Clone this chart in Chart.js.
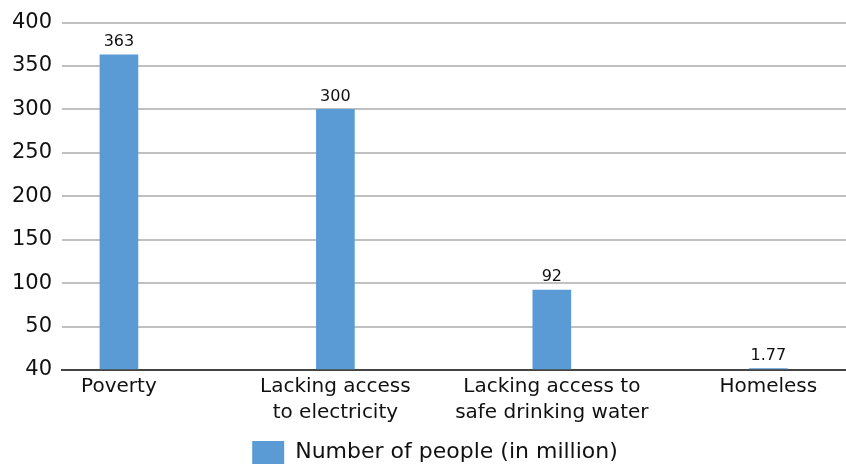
<!DOCTYPE html>
<html>
<head>
<meta charset="utf-8">
<script src="https://cdn.jsdelivr.net/npm/chart.js@4/dist/chart.umd.min.js"></script>
<style>
  html, body { margin: 0; padding: 0; background: #fff; }
  #wrap { width: 846px; height: 466px; position: relative; }
</style>
</head>
<body>
<div id="wrap"><canvas id="povertyChart"></canvas></div>
<script>
// Categories (each entry holds the label lines) and values
const categories = [
  ["Poverty"],
  ["Lacking access", "to electricity"],
  ["Lacking access to", "safe drinking water"],
  ["Homeless"],
];
const values = [363, 300, 92, 1.77];
const valueLabels = ["363", "300", "92", "1.77"];
const seriesName = "Number of people (in million)";

// y axis ticks as printed on the original
const yTickValues = [0, 50, 100, 150, 200, 250, 300, 350, 400];
const yTickLabels = ["40", "50", "100", "150", "200", "250", "300", "350", "400"];

const FONT = "'DejaVu Sans', Verdana, sans-serif";

// Draws the value above each bar
const valueLabelPlugin = {
  id: "valueLabels",
  afterDatasetsDraw(chart) {
    const ctx = chart.ctx;
    const meta = chart.getDatasetMeta(0);
    ctx.save();
    ctx.font = "16px " + FONT;
    ctx.fillStyle = "#111";
    ctx.textAlign = "center";
    ctx.textBaseline = "bottom";
    meta.data.forEach((bar, i) => {
      ctx.fillText(valueLabels[i], bar.x, bar.y - 5);
    });
    ctx.restore();
  },
};

const ctx = document.getElementById("povertyChart").getContext("2d");

new Chart(ctx, {
  type: "bar",
  data: {
    datasets: [
      {
        label: seriesName,
        data: values.map((v, i) => ({ x: i, y: v })),
        backgroundColor: "#5b9bd5",
        borderWidth: 0,
        barThickness: 38,
      },
    ],
  },
  options: {
    responsive: true,
    maintainAspectRatio: false,
    animation: false,
    // negative right padding nudges the legend to the right like the original
    layout: { padding: { top: 12, right: -24, left: 0, bottom: -8 } },
    scales: {
      x: {
        type: "linear",
        offset: false,
        min: -0.263,
        max: 3.359,
        afterBuildTicks: (axis) => {
          axis.ticks = categories.map((c, i) => ({ value: i }));
        },
        afterFit: (axis) => {
          axis.height = 67;
        },
        grid: { display: false, drawTicks: false },
        border: { display: true, color: "#444", width: 2 },
        ticks: {
          autoSkip: false,
          maxRotation: 0,
          padding: 4,
          color: "#111",
          font: { family: FONT, size: 20, lineHeight: 1.3 },
          callback: (value) => categories[value],
        },
      },
      y: {
        min: 0,
        max: 400,
        afterBuildTicks: (axis) => {
          axis.ticks = yTickValues.map((v) => ({ value: v }));
        },
        afterFit: (axis) => {
          axis.width = 62;
        },
        grid: { color: "#c0c0c0", lineWidth: 2, drawTicks: false },
        border: { display: false },
        ticks: {
          padding: 10,
          color: "#111",
          font: { family: FONT, size: 21 },
          callback: (value, index) => yTickLabels[index],
        },
      },
    },
    plugins: {
      legend: {
        position: "bottom",
        labels: {
          boxWidth: 32,
          boxHeight: 23,
          padding: 4,
          color: "#111",
          font: { family: FONT, size: 22 },
        },
      },
      tooltip: { enabled: false },
    },
  },
  plugins: [valueLabelPlugin],
});
</script>
</body>
</html>
